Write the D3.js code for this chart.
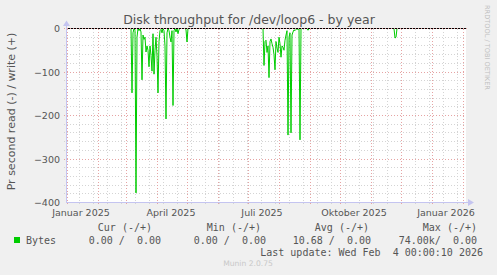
<!DOCTYPE html>
<html>
<head>
<meta charset="utf-8">
<script src="https://cdn.jsdelivr.net/npm/d3@7"></script>
<style>
  body { margin: 0; background: #f0f0f0; }
  svg { display: block; }
  text { font-family: 'DejaVu Sans', sans-serif; }
  .mono { font-family: 'DejaVu Sans Mono', monospace; white-space: pre; }
</style>
</head>
<body>
<svg id="chart"></svg>
<script>
// graph window (400 days)
const startDate = '2024-12-31';
const endDate = '2026-02-04';
const firstGridWeek = '2024-12-30';

// read bytes per second, one value per day, drawn negative
const springStart = '2025-03-06';
const springRead = [0, -148, -10, 0, -5, -378, -20, 0, -5, 0, -8, -118, -15, -25, -20, -54,
  -40, -50, -88, -40, -62, -98, -12, -105, -50, -20, -64, -148, -30, -5, -2, -10, 0, -5, -40,
  -208, -10, 0, -5, -20, -31, -5, -177, -5, 0, -8, 0, -12, -2, 0, 0, 0, 0, 0, 0, -3, -31, 0];
const summerStart = '2025-07-16';
const summerRead = [0, -85, -30, -27, -55, -40, -113, -30, -24, -35, -43, -60, -95, -30, -45,
  -55, -20, -35, -66, -40, -43, -50, -27, -15, -5, -245, -20, -10, -240, -15, -8, -3, -5, -2,
  0, -3, 0, -256, 0, 0, 0, 0, 0, 0, 0, -4, 0];
const autumnStart = '2025-11-24';
const autumnRead = [0, -22, -20, 0];

const yTicks = [0, -100, -200, -300, -400];
const xLabels = ['Januar 2025', 'April 2025', 'Juli 2025', 'Oktober 2025', 'Januar 2026'];
const xLabelDates = ['2025-01-15', '2025-04-15', '2025-07-15', '2025-10-15', '2026-01-15'];

const legendHeads = ['Cur (-/+)', 'Min (-/+)', 'Avg (-/+)', 'Max (-/+)'];
const legendValues = ['0.00 /  0.00', '0.00 /  0.00', '10.68 /  0.00', '74.00k/  0.00'];

const width = 497;
const height = 275;
const plot = { left: 66, right: 466, top: 28.5, bottom: 202.5 };

const parse = d3.utcParse('%Y-%m-%d');

const svg = d3.select('#chart')
  .attr('width', width)
  .attr('height', height);

svg.append('rect')
  .attr('width', width)
  .attr('height', height)
  .attr('fill', '#f0f0f0');

// x scale
const x = d3.scaleUtc()
  .domain([parse(startDate), parse(endDate)])
  .range([plot.left, plot.right]);

// y scale
const y = d3.scaleLinear()
  .domain([-400, 0])
  .range([plot.bottom, plot.top]);

svg.append('rect')
  .attr('x', plot.left)
  .attr('y', plot.top)
  .attr('width', plot.right - plot.left)
  .attr('height', plot.bottom - plot.top)
  .attr('fill', '#fff');

const px = v => Math.round(v) + 0.5;

// minor grid: every second week, every 20 units
const grid = svg.append('g').attr('shape-rendering', 'crispEdges');
const minorWeeks = d3.utcMonday.range(parse(firstGridWeek), x.domain()[1], 2)
  .filter(d => x(d) > plot.left);
grid.selectAll('.vminor')
  .data(minorWeeks)
  .join('line')
  .attr('x1', d => px(x(d)))
  .attr('x2', d => px(x(d)))
  .attr('y1', plot.top)
  .attr('y2', plot.bottom + 2)
  .attr('stroke', '#d4d4d4')
  .attr('stroke-dasharray', '1,2');

grid.selectAll('.hminor')
  .data(d3.range(-400, 0, 20).filter(v => v % 100 !== 0))
  .join('line')
  .attr('x1', plot.left - 2)
  .attr('x2', plot.right)
  .attr('y1', d => Math.floor(y(d)) + 0.5)
  .attr('y2', d => Math.floor(y(d)) + 0.5)
  .attr('stroke', '#d4d4d4')
  .attr('stroke-dasharray', '1,2');

// major grid: months, hundreds
const months = d3.utcMonth.range(x.domain()[0], x.domain()[1]);
grid.selectAll('.vmajor')
  .data(months)
  .join('line')
  .attr('x1', d => px(x(d)))
  .attr('x2', d => px(x(d)))
  .attr('y1', plot.top)
  .attr('y2', plot.bottom + 2)
  .attr('stroke', '#e6a3a3')
  .attr('stroke-dasharray', '1,2');

grid.selectAll('.hmajor')
  .data(yTicks.filter(v => v !== -400 && v !== 0))
  .join('line')
  .attr('x1', plot.left - 2)
  .attr('x2', plot.right)
  .attr('y1', d => Math.floor(y(d)) + 0.5)
  .attr('y2', d => Math.floor(y(d)) + 0.5)
  .attr('stroke', '#e6a3a3')
  .attr('stroke-dasharray', '1,2');

// read line
const series = [[parse(startDate), 0]];
[[springStart, springRead], [summerStart, summerRead], [autumnStart, autumnRead]]
  .forEach(([start, vals]) => {
    vals.forEach((v, i) => series.push([d3.utcDay.offset(parse(start), i), v]));
  });
series.push([parse(endDate), 0]);

svg.append('path')
  .datum(series)
  .attr('fill', 'none')
  .attr('stroke', '#00cc00')
  .attr('stroke-width', 1)
  .attr('d', d3.line()
    .x(d => x(d[0]))
    .y(d => y(d[1])));

// zero line
svg.append('line')
  .attr('x1', plot.left)
  .attr('x2', plot.right)
  .attr('y1', y(0))
  .attr('y2', y(0))
  .attr('stroke', '#000')
  .attr('shape-rendering', 'crispEdges');
svg.append('line')
  .attr('x1', plot.left - 2)
  .attr('x2', plot.right + 1)
  .attr('y1', y(0))
  .attr('y2', y(0))
  .attr('stroke', '#e6a3a3')
  .attr('stroke-dasharray', '1,2')
  .attr('shape-rendering', 'crispEdges');

// axes lines with arrows
const axisColor = '#c4c4f0';
svg.append('line')
  .attr('x1', plot.left + 0.5).attr('x2', plot.left + 0.5)
  .attr('y1', plot.bottom).attr('y2', 24)
  .attr('stroke', axisColor)
  .attr('shape-rendering', 'crispEdges');
svg.append('path')
  .attr('d', `M${plot.left - 3},26 L${plot.left + 0.5},20.5 L${plot.left + 4},26 Z`)
  .attr('fill', axisColor);
svg.append('line')
  .attr('x1', plot.left).attr('x2', 469)
  .attr('y1', plot.bottom).attr('y2', plot.bottom)
  .attr('stroke', axisColor)
  .attr('shape-rendering', 'crispEdges');
svg.append('path')
  .attr('d', `M468,${plot.bottom - 3.5} L474,${plot.bottom} L468,${plot.bottom + 3.5} Z`)
  .attr('fill', axisColor);

// y tick labels
svg.append('g')
  .attr('transform', `translate(${plot.left - 6},0)`)
  .call(d3.axisLeft(y).tickValues(yTicks).tickSize(0).tickPadding(0))
  .call(g => g.select('.domain').remove())
  .call(g => g.selectAll('text')
    .attr('font-family', 'DejaVu Sans')
    .attr('font-size', '9.5px')
    .attr('fill', '#555'));

// x labels
svg.append('g')
  .selectAll('text')
  .data(xLabels)
  .join('text')
  .attr('x', (d, i) => x(parse(xLabelDates[i])))
  .attr('y', 215.5)
  .attr('text-anchor', 'middle')
  .attr('font-size', '9.5px')
  .attr('fill', '#555')
  .text(d => d);

// title
svg.append('text')
  .attr('x', 249)
  .attr('y', 23.5)
  .attr('text-anchor', 'middle')
  .attr('font-size', '12.5px')
  .attr('fill', '#555')
  .text('Disk throughput for /dev/loop6 - by year');

// y axis title
svg.append('text')
  .attr('transform', 'translate(15,111.5) rotate(-90)')
  .attr('text-anchor', 'middle')
  .attr('font-size', '11px')
  .attr('fill', '#555')
  .text('Pr second read (-) / write (+)');

// side text
svg.append('text')
  .attr('transform', 'translate(485,5) rotate(90)')
  .attr('font-size', '6.6px')
  .attr('fill', '#c0c0c0')
  .text('RRDTOOL / TOBI OETIKER');

// legend
const heads = [152, 261, 369, 477];
const vals = [161, 266, 371, 477];
svg.append('g')
  .selectAll('text')
  .data(legendHeads)
  .join('text')
  .attr('class', 'mono')
  .attr('x', (d, i) => heads[i])
  .attr('y', 231)
  .attr('text-anchor', 'end')
  .attr('font-size', '10px')
  .attr('fill', '#555')
  .text(d => d);

svg.append('rect')
  .attr('x', 14).attr('y', 237)
  .attr('width', 6).attr('height', 6)
  .attr('fill', '#00cc00');

svg.append('text')
  .attr('class', 'mono')
  .attr('x', 26)
  .attr('y', 243.5)
  .attr('font-size', '10px')
  .attr('fill', '#555')
  .text('Bytes');

svg.append('g')
  .selectAll('text')
  .data(legendValues)
  .join('text')
  .attr('class', 'mono')
  .attr('x', (d, i) => vals[i])
  .attr('y', 243.5)
  .attr('text-anchor', 'end')
  .attr('font-size', '10px')
  .attr('fill', '#555')
  .text(d => d);

svg.append('text')
  .attr('class', 'mono')
  .attr('x', 483)
  .attr('y', 255.5)
  .attr('text-anchor', 'end')
  .attr('font-size', '10px')
  .attr('fill', '#555')
  .text('Last update: Wed Feb  4 00:00:10 2026');

svg.append('text')
  .attr('x', 248)
  .attr('y', 266)
  .attr('text-anchor', 'middle')
  .attr('font-size', '7.6px')
  .attr('fill', '#c8c8c8')
  .text('Munin 2.0.75');
</script>
</body>
</html>
